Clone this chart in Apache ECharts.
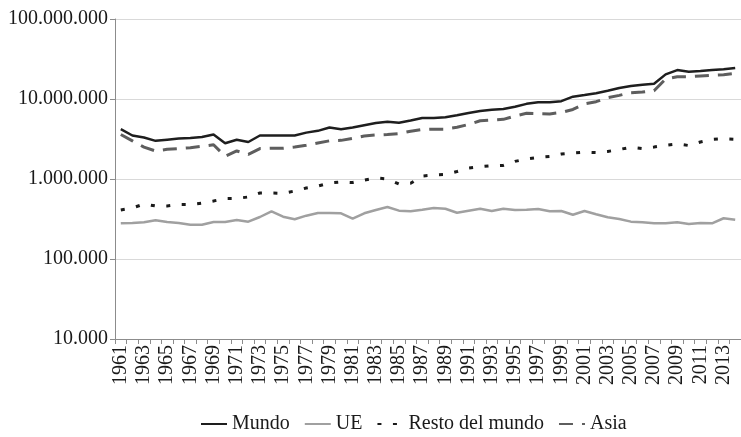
<!DOCTYPE html>
<html>
<head>
<meta charset="utf-8">
<script src="https://cdn.jsdelivr.net/npm/echarts@6/dist/echarts.min.js"></script>
<style>
html,body{margin:0;padding:0;background:#fff;}
#chart{width:741px;height:437px;}
</style>
</head>
<body>
<div id="chart"></div>
<script>
const years = [];
for (let y = 1961; y <= 2014; y++) years.push(String(y));

const mundo = [4200000,3500000,3300000,3000000,3100000,3200000,3250000,3350000,3600000,2800000,
  3100000,2900000,3500000,3500000,3500000,3500000,3800000,4000000,4400000,4200000,
  4400000,4700000,5000000,5200000,5050000,5400000,5800000,5800000,5900000,6250000,
  6700000,7100000,7350000,7500000,8000000,8700000,9100000,9100000,9400000,10700000,
  11200000,11800000,12700000,13700000,14500000,15100000,15500000,20300000,23000000,21900000,
  22400000,23000000,23500000,24400000];

const ue = [279000,282000,288000,305000,290000,282000,268000,268000,290000,290000,
  307000,293000,335000,395000,338000,314000,348000,376000,376000,373000,
  319000,373000,410000,447000,402000,395000,413000,434000,425000,379000,
  402000,425000,398000,425000,410000,413000,422000,395000,398000,358000,
  398000,362000,332000,316000,293000,288000,279000,279000,288000,274000,
  282000,279000,323000,310000];

const resto = [410000,434000,487000,460000,460000,480000,480000,500000,531000,570000,
  572000,596000,668000,668000,662000,708000,772000,817000,891000,917000,
  904000,971000,1030000,1000000,866000,883000,1090000,1120000,1140000,1240000,
  1370000,1430000,1470000,1480000,1660000,1780000,1860000,1910000,2050000,2110000,
  2160000,2140000,2210000,2340000,2490000,2400000,2510000,2640000,2740000,2620000,
  2900000,3120000,3190000,3140000];

const asia = [3600000,3000000,2500000,2240000,2350000,2400000,2460000,2560000,2680000,1920000,
  2240000,2030000,2400000,2420000,2420000,2510000,2640000,2820000,3000000,3040000,
  3220000,3450000,3550000,3600000,3700000,3950000,4150000,4200000,4200000,4430000,
  4800000,5350000,5460000,5570000,6130000,6630000,6550000,6500000,6800000,7400000,
  8700000,9250000,10400000,11100000,12000000,12200000,12700000,17800000,19000000,19000000,
  19400000,19800000,20100000,20900000];

const seriesNames = ['Mundo', 'UE', 'Resto del mundo', 'Asia'];

const FONT = "'Liberation Serif', 'Times New Roman', serif";
const fmt = v => String(Math.round(v)).replace(/\B(?=(\d{3})+(?!\d))/g, '.');

const chart = echarts.init(document.getElementById('chart'), null, {renderer: 'canvas'});
chart.setOption({
  animation: false,
  backgroundColor: '#ffffff',
  grid: {left: 115, top: 19, width: 631, height: 320, containLabel: false},
  legend: {
    data: seriesNames,
    left: 195,
    top: 409,
    itemWidth: 26,
    itemHeight: 14,
    itemGap: 14,
    itemStyle: {opacity: 0},
    textStyle: {fontFamily: FONT, fontSize: 20, color: '#1a1a1a'}
  },
  xAxis: {
    type: 'category',
    data: years,
    boundaryGap: true,
    axisLine: {show: true, lineStyle: {color: '#8c8c8c', width: 1}},
    axisTick: {show: true, interval: 0, length: 5, lineStyle: {color: '#8c8c8c'}},
    axisLabel: {
      interval: 1,
      rotate: 90,
      margin: 6,
      fontFamily: FONT,
      fontSize: 20,
      color: '#1a1a1a'
    },
    splitLine: {show: false}
  },
  yAxis: {
    type: 'log',
    logBase: 10,
    min: 10000,
    max: 100000000,
    axisLine: {show: true, lineStyle: {color: '#8c8c8c', width: 1}},
    axisTick: {show: true, length: 5, lineStyle: {color: '#8c8c8c'}},
    axisLabel: {
      margin: 7,
      fontFamily: FONT,
      fontSize: 20,
      color: '#1a1a1a',
      formatter: fmt
    },
    splitLine: {show: true, lineStyle: {color: '#d9d9d9', width: 1}},
    minorTick: {show: false},
    minorSplitLine: {show: false}
  },
  series: [
    {
      name: 'Mundo', type: 'line', data: mundo, symbol: 'none',
      lineStyle: {color: '#1e1e1e', width: 2.5, type: 'solid'},
      itemStyle: {color: '#1e1e1e'}, z: 4
    },
    {
      name: 'UE', type: 'line', data: ue, symbol: 'none',
      lineStyle: {color: '#a0a0a0', width: 2.5, type: 'solid'},
      itemStyle: {color: '#a0a0a0'}, z: 2
    },
    {
      name: 'Resto del mundo', type: 'line', data: resto, symbol: 'none',
      lineStyle: {color: '#1a1a1a', width: 3, type: [4, 11.5]},
      itemStyle: {color: '#1a1a1a'}, z: 3
    },
    {
      name: 'Asia', type: 'line', data: asia, symbol: 'none',
      lineStyle: {color: '#5e5e5e', width: 3, type: [14, 9]},
      itemStyle: {color: '#5e5e5e'}, z: 3
    }
  ]
});
</script>
</body>
</html>
